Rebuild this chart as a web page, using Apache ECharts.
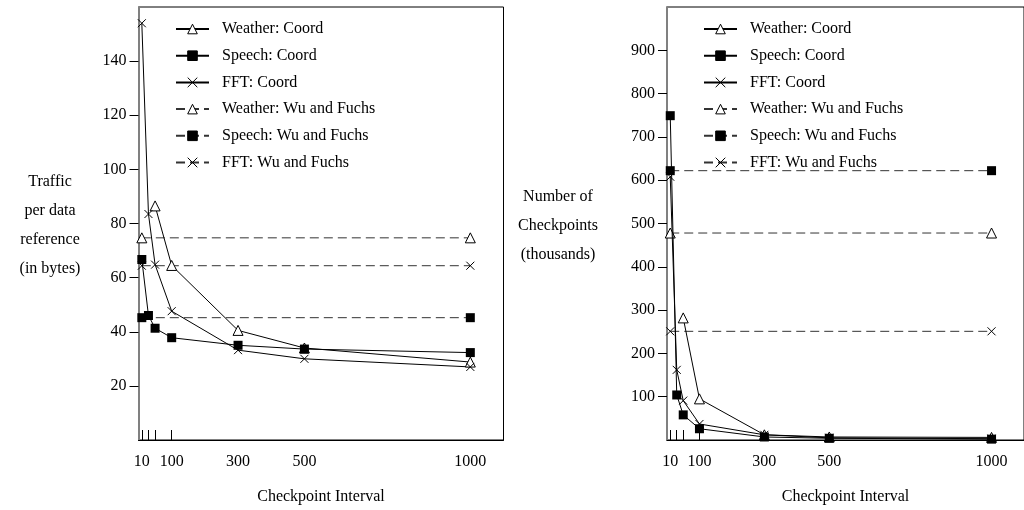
<!DOCTYPE html>
<html>
<head>
<meta charset="utf-8">
<script src="https://cdn.jsdelivr.net/npm/echarts@6/dist/echarts.min.js"></script>
<style>
  html, body { margin: 0; padding: 0; background: #fff; }
  #chart { width: 1024px; height: 510px; }
</style>
</head>
<body>
<div id="chart"></div>
<script>
const intervals = [10, 30, 50, 100, 300, 500, 1000];
const wuIntervals = [10, 1000];
const xLabelTicks = [10, 100, 300, 500, 1000];
const xMinorTicks = [10, 30, 50, 100];

const seriesNames = [
  'Weather: Coord', 'Speech: Coord', 'FFT: Coord',
  'Weather: Wu and Fuchs', 'Speech: Wu and Fuchs', 'FFT: Wu and Fuchs',
];

// left panel: traffic per data reference (bytes)
const trafficWeatherCoord = [null, null, 86.5, 64.5, 40.5, 34, 28.8];
const trafficSpeechCoord = [66.7, 46, 41.3, 37.8, 35, 33.6, 32.3];
const trafficFftCoord = [154, 83.5, 64.8, 47.6, 33.2, 30, 27];
const trafficWeatherWu = [74.7, 74.7];
const trafficSpeechWu = [45.2, 45.2];
const trafficFftWu = [64.4, 64.4];
const trafficTicks = [20, 40, 60, 80, 100, 120, 140];

// right panel: number of checkpoints (thousands)
const ckptWeatherCoord = [null, null, 282, 95, 12, 7, 6];
const ckptSpeechCoord = [749, 104, 58, 26, 7, 4, 2];
const ckptFftCoord = [608, 162, 91, 37, 12, 5, 3];
const ckptWeatherWu = [478, 478];
const ckptSpeechWu = [622, 622];
const ckptFftWu = [251, 251];
const ckptTicks = [100, 200, 300, 400, 500, 600, 700, 800, 900];

const FONT = 'Liberation Serif';
const CROSS = 'path://M0,0L10,10M10,0L0,10';

const markers = {
  Weather: { symbol: 'triangle', symbolSize: [10, 10], itemStyle: { color: '#fff', borderColor: '#000', borderWidth: 1 } },
  Speech: { symbol: 'rect', symbolSize: 9, itemStyle: { color: '#000', borderColor: '#000', borderWidth: 0 } },
  FFT: { symbol: CROSS, symbolSize: 8, itemStyle: { color: '#000', borderColor: '#000', borderWidth: 1 } },
};

function pairs(xs, ys) {
  return xs.map((x, i) => [x, ys[i]]);
}

function line(name, idx, xs, ys, dashed) {
  const m = markers[name.split(':')[0]];
  return {
    name,
    type: 'line',
    xAxisIndex: idx,
    yAxisIndex: idx,
    data: pairs(xs, ys),
    symbol: m.symbol,
    symbolSize: m.symbolSize,
    showAllSymbol: true,
    itemStyle: m.itemStyle,
    lineStyle: dashed
      ? { color: '#333', width: 1, type: [9, 5] }
      : { color: '#000', width: 1 },
    emphasis: { disabled: true },
    animation: false,
    z: dashed ? 2 : 3,
  };
}

function xAxis(idx) {
  return {
    type: 'value',
    gridIndex: idx,
    min: 0,
    max: 1100,
    name: 'Checkpoint Interval',
    nameLocation: 'middle',
    nameGap: 49,
    nameTextStyle: { fontFamily: FONT, fontSize: 16, color: '#000' },
    splitLine: { show: false },
    axisLine: { lineStyle: { color: '#000', width: 1 } },
    axisTick: { inside: true, length: 10, customValues: xMinorTicks, lineStyle: { color: '#000' } },
    axisLabel: {
      customValues: xLabelTicks, margin: 14, formatter: (v) => String(v),
      fontFamily: FONT, fontSize: 16, color: '#000',
    },
  };
}

function yAxis(idx, max, ticks) {
  return {
    type: 'value',
    gridIndex: idx,
    min: 0,
    max,
    splitLine: { show: false },
    axisLine: { show: true, lineStyle: { color: '#808080', width: 2 } },
    axisTick: { show: true, length: 9, customValues: ticks, lineStyle: { color: '#000' } },
    axisLabel: {
      customValues: ticks, margin: 12, formatter: (v) => String(v),
      fontFamily: FONT, fontSize: 16, color: '#000',
    },
  };
}

function legend(left) {
  return {
    data: seriesNames,
    orient: 'vertical',
    left,
    top: 16,
    itemWidth: 33,
    itemHeight: 12,
    itemGap: 10.7,
    selectedMode: false,
    itemStyle: { borderWidth: 1 },
    textStyle: { fontFamily: FONT, fontSize: 16, color: '#000', padding: [0, 0, 0, 8] },
  };
}

const chart = echarts.init(document.getElementById('chart'), null, { renderer: 'canvas' });
chart.setOption({
  backgroundColor: '#fff',
  animation: false,
  grid: [
    { left: 138.5, top: 7, width: 365, height: 441, show: true, borderColor: '#000', borderWidth: 1 },
    { left: 667, top: 7, width: 365, height: 441, show: true, borderColor: '#000', borderWidth: 1 },
  ],
  xAxis: [xAxis(0), xAxis(1)],
  yAxis: [yAxis(0, 160, trafficTicks), yAxis(1, 1000, ckptTicks)],
  legend: [legend(170), legend(698)],
  graphic: [
    {
      type: 'text', x: 50, y: 225,
      style: { text: 'Traffic\nper data\nreference\n(in bytes)', align: 'center', verticalAlign: 'middle',
        lineHeight: 29, fontFamily: FONT, fontSize: 16, fill: '#000' },
    },
    {
      type: 'text', x: 558, y: 226,
      style: { text: 'Number of\nCheckpoints\n(thousands)', align: 'center', verticalAlign: 'middle',
        lineHeight: 29, fontFamily: FONT, fontSize: 16, fill: '#000' },
    },
  ],
  series: [
    line('Weather: Coord', 0, intervals, trafficWeatherCoord, false),
    line('Speech: Coord', 0, intervals, trafficSpeechCoord, false),
    line('FFT: Coord', 0, intervals, trafficFftCoord, false),
    line('Weather: Wu and Fuchs', 0, wuIntervals, trafficWeatherWu, true),
    line('Speech: Wu and Fuchs', 0, wuIntervals, trafficSpeechWu, true),
    line('FFT: Wu and Fuchs', 0, wuIntervals, trafficFftWu, true),
    line('Weather: Coord', 1, intervals, ckptWeatherCoord, false),
    line('Speech: Coord', 1, intervals, ckptSpeechCoord, false),
    line('FFT: Coord', 1, intervals, ckptFftCoord, false),
    line('Weather: Wu and Fuchs', 1, wuIntervals, ckptWeatherWu, true),
    line('Speech: Wu and Fuchs', 1, wuIntervals, ckptSpeechWu, true),
    line('FFT: Wu and Fuchs', 1, wuIntervals, ckptFftWu, true),
  ],
});
</script>
</body>
</html>
